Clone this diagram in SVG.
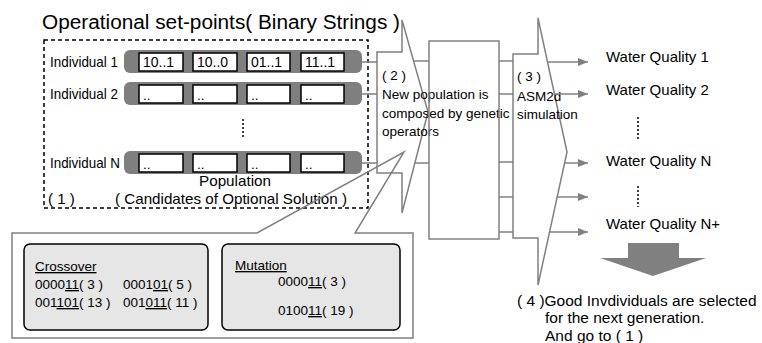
<svg xmlns="http://www.w3.org/2000/svg" width="762" height="343" viewBox="0 0 762 343">
<defs>
<style>
text{font-family:"Liberation Sans",Arial,sans-serif;fill:#000}
.g{stroke:#808080;stroke-width:1.5;fill:none}
.bar{fill:#7f7f7f}
.cell{fill:#fff;stroke:#000;stroke-width:1.5}
.lbl{font-size:15px}
.cv{font-size:14px}
.t13{font-size:13.5px}
.wq{font-size:15px}
.sel{font-size:15.5px}
.dots{stroke:#000;stroke-width:1.5;stroke-dasharray:2,2}
.op{fill:#e6e6e6;stroke:#000;stroke-width:1.5}
</style>
<marker id="ah" viewBox="0 0 10 8" refX="10" refY="4" markerWidth="10" markerHeight="8" markerUnits="userSpaceOnUse" orient="auto">
<path d="M0,0 L10,4 L0,8 Z" fill="#808080"/>
</marker>
</defs>

<text x="42" y="29" font-size="20" textLength="358" lengthAdjust="spacingAndGlyphs">Operational set-points( Binary Strings )</text>

<g id="population">
<rect x="44" y="40" width="324" height="168" fill="none" stroke="#000" stroke-width="1.5" stroke-dasharray="4,3"/>
<text x="48" y="204" font-size="15">( 1 )</text>
<text x="199" y="186" font-size="14.5" textLength="72" lengthAdjust="spacingAndGlyphs">Population</text>
<text x="115" y="204" font-size="15" textLength="232" lengthAdjust="spacingAndGlyphs">( Candidates of Optional Solution )</text>
<line class="dots" x1="243" y1="119" x2="243" y2="138"/>
</g>

<g id="individual1">
<text class="lbl" x="50" y="67" textLength="68" lengthAdjust="spacingAndGlyphs">Individual 1</text>
<rect class="bar" x="124" y="50" width="238" height="23" rx="6"/>
<rect class="cell" x="139" y="53" width="44" height="18"/>
<rect class="cell" x="193" y="53" width="44" height="18"/>
<rect class="cell" x="247" y="53" width="43" height="18"/>
<rect class="cell" x="301" y="53" width="43" height="18"/>
<text class="cv" x="143" y="67">10..1</text>
<text class="cv" x="197" y="67">10..0</text>
<text class="cv" x="251" y="67">01..1</text>
<text class="cv" x="305" y="67">11..1</text>
</g>

<g id="individual2">
<text class="lbl" x="50" y="99" textLength="68" lengthAdjust="spacingAndGlyphs">Individual 2</text>
<rect class="bar" x="124" y="82" width="238" height="23" rx="6"/>
<rect class="cell" x="139" y="85" width="44" height="18"/>
<rect class="cell" x="193" y="85" width="44" height="18"/>
<rect class="cell" x="247" y="85" width="43" height="18"/>
<rect class="cell" x="301" y="85" width="43" height="18"/>
<text class="t13" x="143" y="100">..</text>
<text class="t13" x="197" y="100">..</text>
<text class="t13" x="251" y="100">..</text>
<text class="t13" x="305" y="100">..</text>
</g>

<g id="individualN">
<text class="lbl" x="50" y="168" textLength="70" lengthAdjust="spacingAndGlyphs">Individual N</text>
<rect class="bar" x="124" y="151" width="238" height="23" rx="6"/>
<rect class="cell" x="139" y="154" width="44" height="18"/>
<rect class="cell" x="193" y="154" width="44" height="18"/>
<rect class="cell" x="247" y="154" width="43" height="18"/>
<rect class="cell" x="301" y="154" width="43" height="18"/>
<text class="t13" x="143" y="169">..</text>
<text class="t13" x="197" y="169">..</text>
<text class="t13" x="251" y="169">..</text>
<text class="t13" x="305" y="169">..</text>
</g>

<g id="connectors">
<line class="g" x1="362" y1="62" x2="377" y2="62"/>
<line class="g" x1="362" y1="94" x2="377" y2="94"/>
<line class="g" x1="362" y1="163" x2="377" y2="163"/>
<line class="g" x1="413" y1="61" x2="429" y2="61"/>
<line class="g" x1="415" y1="163" x2="429" y2="163"/>
<line class="g" x1="499" y1="61" x2="513" y2="61"/>
<line class="g" x1="499" y1="94" x2="513" y2="94"/>
<line class="g" x1="499" y1="162" x2="513" y2="162"/>
<line class="g" x1="499" y1="197" x2="513" y2="197"/>
<line class="g" x1="499" y1="232" x2="513" y2="232"/>
</g>

<g id="operators">
<path class="g" d="M12,233 L257,233 L404,152 L355,233 L413,233 L413,338 L12,338 Z"/>
<rect class="op" x="24" y="244" width="184" height="86" rx="6"/>
<text class="t13" x="35" y="271"><tspan text-decoration="underline">Crossover</tspan></text>
<text class="t13" x="35" y="289">0000<tspan text-decoration="underline">11</tspan>( 3 )</text>
<text class="t13" x="123" y="289">0001<tspan text-decoration="underline">01</tspan>( 5 )</text>
<text class="t13" x="35" y="307">001<tspan text-decoration="underline">101</tspan>( 13 )</text>
<text class="t13" x="123" y="307">001<tspan text-decoration="underline">011</tspan>( 11 )</text>
<rect class="op" x="222" y="244" width="178" height="86" rx="6"/>
<text class="t13" x="235" y="270"><tspan text-decoration="underline">Mutation</tspan></text>
<text class="t13" x="278" y="286">0000<tspan text-decoration="underline">11</tspan>( 3 )</text>
<text class="t13" x="278" y="315">0100<tspan text-decoration="underline">11</tspan>( 19 )</text>
</g>

<g id="step2">
<path class="g" d="M377,52 L402,52 L402,20 L428,112 L402,213 L402,173 L377,173 Z"/>
<text class="t13" x="382" y="80">( 2 )</text>
<text class="t13" x="382" y="99">New population is</text>
<text class="t13" x="382" y="118">composed by genetic</text>
<text class="t13" x="382" y="136">operators</text>
</g>

<g id="genetic-block">
<rect class="g" x="429" y="41" width="70" height="198"/>
</g>

<g id="step3">
<path class="g" d="M513,54 L538,54 L538,18 L567,152 L538,285 L538,238 L513,238 Z"/>
<text class="t13" x="517" y="81">( 3 )</text>
<text class="t13" x="517" y="101">ASM2d</text>
<text class="t13" x="517" y="119">simulation</text>
</g>

<g id="arrows">
<line class="g" x1="547" y1="62" x2="588" y2="62" marker-end="url(#ah)"/>
<line class="g" x1="554" y1="94" x2="588" y2="94" marker-end="url(#ah)"/>
<line class="g" x1="565" y1="163" x2="588" y2="163" marker-end="url(#ah)"/>
<line class="g" x1="557" y1="197" x2="588" y2="197" marker-end="url(#ah)"/>
<line class="g" x1="549" y1="232" x2="588" y2="232" marker-end="url(#ah)"/>
</g>

<g id="water-quality">
<text class="wq" x="606" y="62">Water Quality 1</text>
<text class="wq" x="606" y="95">Water Quality 2</text>
<line class="dots" x1="638" y1="117" x2="638" y2="139"/>
<text class="wq" x="606" y="166">Water Quality N</text>
<line class="dots" x1="638" y1="186" x2="638" y2="207"/>
<text class="wq" x="606" y="229">Water Quality N+</text>
</g>

<g id="selection">
<path d="M628,243 L679,243 L679,258 L706,258 L653,276 L600,258 L628,258 Z" fill="#808080"/>
<text class="sel" x="517" y="306">( 4 )Good Invdividuals are selected</text>
<text class="sel" x="545" y="323">for the next generation.</text>
<text class="sel" x="545" y="341">And go to ( 1 )</text>
</g>
</svg>
